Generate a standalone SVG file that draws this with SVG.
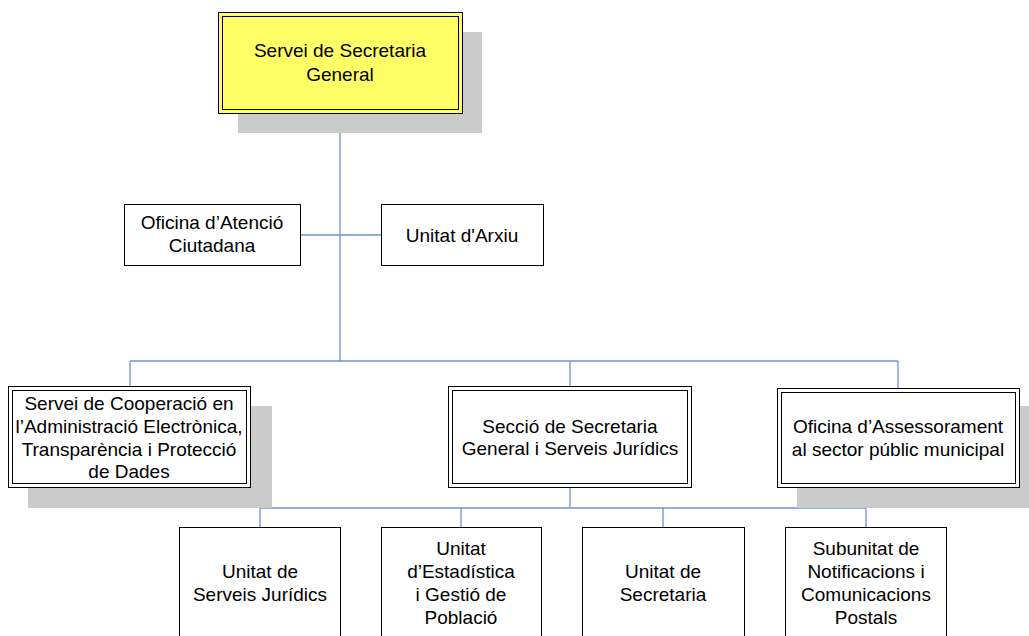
<svg xmlns="http://www.w3.org/2000/svg" width="1029" height="636" viewBox="0 0 1029 636">
<style>
.bx{fill:#fff;stroke:#000;stroke-width:1}
.in{fill:none;stroke:#000;stroke-width:1}
.sh{fill:#cbcbcb}
.t{font-family:"Liberation Sans",Arial,sans-serif;font-size:19px;fill:#000;text-anchor:middle}
.c{fill:none;stroke:#6f94cf;stroke-width:1.3}
</style>
<rect width="1029" height="636" fill="#fff"/>
<g id="connectors">
<path class="c" d="M340 113V361M300 235H381M130 361H898M130 361V386M570 361V386M898 361V388M570 487V508M260 508H866M260 508V527M461 508V527M663 508V527M866 508V527"/>
</g>
<g id="n-servei-secretaria">
<rect class="sh" x="238" y="32" width="244" height="101"/>
<rect x="218.5" y="12.5" width="244" height="101" fill="#ffff66" stroke="#000"/>
<rect class="in" x="222.5" y="16.5" width="236" height="93"/>
<text class="t" x="340" y="57">Servei de Secretaria</text>
<text class="t" x="340" y="81">General</text>
</g>
<g id="n-oac">
<rect class="bx" x="124.5" y="204.5" width="176" height="61"/>
<text class="t" x="212" y="229">Oficina d’Atenció</text>
<text class="t" x="212" y="252">Ciutadana</text>
</g>
<g id="n-arxiu">
<rect class="bx" x="381.5" y="204.5" width="162" height="61"/>
<text class="t" x="462" y="242">Unitat d'Arxiu</text>
</g>
<g id="n-cooperacio">
<rect class="sh" x="28" y="406" width="244" height="102"/>
<rect class="bx" x="8.5" y="386.5" width="242" height="101"/>
<rect class="in" x="12.5" y="390.5" width="234" height="93"/>
<text class="t" x="129" y="410">Servei de Cooperació en</text>
<text class="t" x="129" y="433">l’Administració Electrònica,</text>
<text class="t" x="129" y="456">Transparència i Protecció</text>
<text class="t" x="129" y="478">de Dades</text>
</g>
<g id="n-seccio">
<rect class="bx" x="448.5" y="386.5" width="243" height="101"/>
<rect class="in" x="452.5" y="390.5" width="235" height="93"/>
<text class="t" x="570" y="433">Secció de Secretaria</text>
<text class="t" x="570" y="455">General i Serveis Jurídics</text>
</g>
<g id="n-assessorament">
<rect class="sh" x="797" y="406" width="232" height="102"/>
<rect class="bx" x="777.5" y="388.5" width="242" height="99"/>
<rect class="in" x="781.5" y="392.5" width="234" height="91"/>
<text class="t" x="898" y="433">Oficina d’Assessorament</text>
<text class="t" x="898" y="456">al sector públic municipal</text>
</g>
<g id="n-juridics">
<rect class="bx" x="179.5" y="527.5" width="161" height="115"/>
<text class="t" x="260" y="578">Unitat de</text>
<text class="t" x="260" y="601">Serveis Jurídics</text>
</g>
<g id="n-estadistica">
<rect class="bx" x="381.5" y="527.5" width="160" height="115"/>
<text class="t" x="461" y="555">Unitat</text>
<text class="t" x="461" y="578">d’Estadística</text>
<text class="t" x="461" y="601">i Gestió de</text>
<text class="t" x="461" y="624">Població</text>
</g>
<g id="n-secretaria">
<rect class="bx" x="582.5" y="527.5" width="162" height="115"/>
<text class="t" x="663" y="578">Unitat de</text>
<text class="t" x="663" y="601">Secretaria</text>
</g>
<g id="n-notificacions">
<rect class="bx" x="785.5" y="527.5" width="161" height="115"/>
<text class="t" x="866" y="555">Subunitat de</text>
<text class="t" x="866" y="578">Notificacions i</text>
<text class="t" x="866" y="601">Comunicacions</text>
<text class="t" x="866" y="624">Postals</text>
</g>
</svg>
